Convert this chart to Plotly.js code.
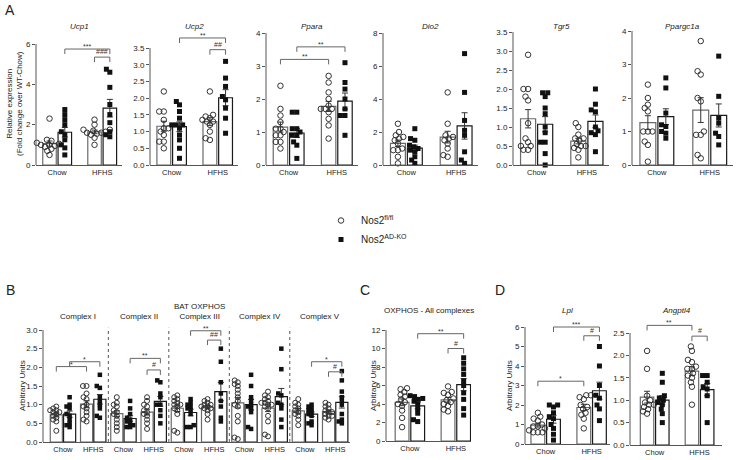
<!DOCTYPE html>
<html><head><meta charset="utf-8">
<script src="https://cdn.plot.ly/plotly-3.0.1.min.js"></script>
<style>html,body{margin:0;padding:0;background:#fff}#chart{width:742px;height:460px}</style>
</head><body><div id="chart"></div>
<script>
// ---------------- DATA ----------------
const diets = ['Chow', 'HFHS'];
const genotypes = ['Nos2<sup>fl/fl</sup>', 'Nos2<sup>AD-KO</sup>'];

// Panel A (relative expression)
const Ucp1_WT_Chow = [2.3, 1.25, 1.2, 1.1, 1.05, 1.0, 1.0, 0.95, 0.9, 0.8, 0.7, 0.5];
const Ucp1_KO_Chow = [2.75, 2.5, 2.25, 2.0, 1.65, 1.5, 1.25, 1.0, 0.85, 0.5];
const Ucp1_WT_HFHS = [2.25, 2.0, 1.75, 1.75, 1.7, 1.65, 1.6, 1.6, 1.55, 1.5, 1.35, 1.0];
const Ucp1_KO_HFHS = [4.75, 4.6, 3.85, 3.0, 2.5, 2.1, 1.65, 1.5, 1.4];

const Ucp2_WT_Chow = [2.2, 1.6, 1.6, 1.35, 1.1, 1.1, 1.0, 0.9, 0.7, 0.7, 0.5];
const Ucp2_KO_Chow = [1.9, 1.8, 1.6, 1.4, 1.2, 1.2, 1.2, 1.1, 0.9, 0.75, 0.5, 0.2];
const Ucp2_WT_HFHS = [2.2, 1.5, 1.45, 1.4, 1.35, 1.3, 1.3, 1.2, 1.0, 0.8, 0.75];
const Ucp2_KO_HFHS = [3.1, 2.6, 2.35, 2.05, 1.95, 1.7, 1.4, 0.95];

const Ppara_WT_Chow = [2.4, 1.7, 1.5, 1.3, 1.1, 1.1, 1.0, 0.9, 0.9, 0.7, 0.7, 0.5];
const Ppara_KO_Chow = [1.6, 1.6, 1.1, 1.1, 1.0, 0.9, 0.9, 0.7, 0.6, 0.2];
const Ppara_WT_HFHS = [2.7, 2.5, 2.2, 2.0, 1.8, 1.7, 1.7, 1.7, 1.6, 1.4, 1.2, 0.8];
const Ppara_KO_HFHS = [3.1, 2.5, 2.3, 2.0, 1.7, 1.5, 1.5, 0.9];

const Dio2_WT_Chow = [2.5, 2.0, 1.8, 1.7, 1.6, 1.5, 1.3, 1.0, 0.9, 0.9, 0.5, 0.1];
const Dio2_KO_Chow = [2.2, 1.6, 1.5, 1.2, 1.1, 1.0, 0.9, 0.8, 0.5, 0.3, 0.1];
const Dio2_WT_HFHS = [4.4, 2.5, 1.8, 1.7, 1.6, 1.5, 1.3, 1.0, 0.6, 0.5];
const Dio2_KO_HFHS = [6.75, 4.4, 2.7, 2.1, 1.8, 0.8, 0.3, 0.1];

const Tgr5_WT_Chow = [2.9, 2.0, 2.0, 1.8, 1.7, 1.1, 0.7, 0.6, 0.5, 0.5, 0.4, 0.4];
const Tgr5_KO_Chow = [1.9, 1.9, 1.8, 1.5, 1.35, 1.0, 0.85, 0.6, 0.6, 0.3, 0.0];
const Tgr5_WT_HFHS = [1.1, 1.0, 0.8, 0.7, 0.7, 0.65, 0.55, 0.5, 0.5, 0.45, 0.4, 0.2];
const Tgr5_KO_HFHS = [2.0, 1.6, 1.45, 1.4, 1.0, 0.9, 0.85, 0.8, 0.35];

const Ppargc1a_WT_Chow = [2.4, 2.0, 1.8, 1.7, 1.6, 1.0, 1.0, 1.0, 0.7, 0.6, 0.1];
const Ppargc1a_KO_Chow = [2.6, 2.3, 1.55, 1.2, 1.15, 1.0, 0.95, 0.8];
const Ppargc1a_WT_HFHS = [3.7, 2.8, 2.7, 2.0, 1.9, 1.0, 0.9, 0.9, 0.3, 0.2];
const Ppargc1a_KO_HFHS = [3.25, 2.05, 1.4, 1.25, 0.95, 0.85, 0.6];

// Panel B (BAT OXPHOS complexes, arbitrary units)
const complexes = ['Complex I', 'Complex II', 'BAT OXPHOS<br>Complex III', 'Complex IV', 'Complex V'];
const CI_WT_Chow = [0.95, 0.9, 0.85, 0.85, 0.8, 0.8, 0.75, 0.7, 0.65, 0.6, 0.55, 0.3];
const CI_KO_Chow = [1.2, 1.0, 0.95, 0.9, 0.75, 0.7, 0.6, 0.5, 0.45, 0.4];
const CI_WT_HFHS = [1.5, 1.5, 1.3, 1.2, 1.15, 1.0, 0.95, 0.9, 0.8, 0.7, 0.6, 0.55];
const CI_KO_HFHS = [1.8, 1.5, 1.45, 1.2, 1.1, 1.0, 0.9, 0.7, 0.65];

const CII_WT_Chow = [1.2, 1.05, 1.0, 0.95, 0.85, 0.8, 0.75, 0.7, 0.6, 0.5, 0.4, 0.3];
const CII_KO_Chow = [1.1, 0.9, 0.75, 0.65, 0.6, 0.55, 0.5, 0.45, 0.4, 0.4];
const CII_WT_HFHS = [1.2, 1.1, 1.0, 0.95, 0.85, 0.8, 0.75, 0.7, 0.6, 0.5, 0.35];
const CII_KO_HFHS = [1.65, 1.6, 1.3, 1.2, 1.0, 1.0, 0.85, 0.7, 0.5];

const CIII_WT_Chow = [1.25, 1.2, 1.15, 1.1, 1.05, 1.0, 1.0, 0.95, 0.9, 0.85, 0.75, 0.3, 0.25];
const CIII_KO_Chow = [1.15, 1.05, 1.0, 0.95, 0.9, 0.85, 0.75, 0.45, 0.4, 0.4];
const CIII_WT_HFHS = [1.15, 1.1, 1.05, 1.0, 1.0, 0.95, 0.95, 0.9, 0.9, 0.85, 0.75, 0.6];
const CIII_KO_HFHS = [2.5, 2.15, 1.6, 1.3, 1.1, 0.95, 0.65, 0.55];

const CIV_WT_Chow = [1.65, 1.6, 1.55, 1.5, 1.4, 1.3, 1.2, 1.1, 1.0, 0.95, 0.7, 0.55, 0.12, 0.08];
const CIV_KO_Chow = [1.8, 1.5, 1.2, 1.1, 1.0, 0.95, 0.9, 0.8, 0.4, 0.35];
const CIV_WT_HFHS = [1.35, 1.25, 1.2, 1.15, 1.1, 1.05, 1.05, 1.0, 1.0, 0.95, 0.9, 0.7, 0.55, 0.2, 0.15];
const CIV_KO_HFHS = [2.5, 1.95, 1.3, 1.25, 1.05, 1.0, 0.9, 0.6, 0.4];

const CV_WT_Chow = [1.15, 1.05, 1.0, 0.95, 0.9, 0.85, 0.8, 0.75, 0.7, 0.6, 0.45];
const CV_KO_Chow = [1.0, 0.95, 0.9, 0.85, 0.8, 0.75, 0.7, 0.55, 0.5, 0.45];
const CV_WT_HFHS = [1.05, 1.0, 0.95, 0.9, 0.85, 0.8, 0.8, 0.75, 0.7, 0.7, 0.65, 0.6];
const CV_KO_HFHS = [1.9, 1.65, 1.35, 1.2, 1.1, 1.0, 0.75, 0.6, 0.55, 0.5];

// Panel C (OXPHOS - all complexes)
const OX_WT_Chow = [5.7, 5.6, 5.3, 5.0, 4.8, 4.5, 4.2, 4.0, 3.8, 3.3, 2.5, 1.5];
const OX_KO_Chow = [4.9, 4.8, 4.6, 4.5, 4.3, 4.0, 3.5, 3.0, 2.3, 2.1];
const OX_WT_HFHS = [5.9, 5.3, 5.2, 5.0, 4.6, 4.4, 4.2, 4.0, 3.8, 3.4, 3.2];
const OX_KO_HFHS = [9.0, 8.4, 7.8, 7.2, 6.5, 6.0, 5.2, 4.5, 3.5, 2.8];

// Panel D
const Lpl_WT_Chow = [1.6, 1.4, 1.3, 1.2, 1.0, 0.9, 0.9, 0.8, 0.7, 0.6, 0.6, 0.6];
const Lpl_KO_Chow = [2.0, 2.0, 1.9, 1.6, 1.4, 1.3, 1.0, 0.8, 0.5, 0.2];
const Lpl_WT_HFHS = [2.5, 2.5, 2.4, 2.3, 2.0, 1.9, 1.8, 1.6, 1.5, 1.3, 0.8];
const Lpl_KO_HFHS = [5.0, 4.0, 3.0, 2.5, 2.35, 2.0, 1.8, 1.2];

const Angptl4_WT_Chow = [2.1, 1.7, 1.1, 1.0, 0.95, 0.9, 0.9, 0.85, 0.8, 0.75, 0.7];
const Angptl4_KO_Chow = [1.6, 1.4, 1.1, 1.05, 1.0, 0.95, 0.9, 0.8, 0.7, 0.5];
const Angptl4_WT_HFHS = [2.2, 2.1, 1.9, 1.85, 1.75, 1.7, 1.7, 1.6, 1.55, 1.5, 1.4, 1.3, 0.9];
const Angptl4_KO_HFHS = [1.55, 1.55, 1.4, 1.3, 1.25, 1.1, 0.5];

// ---------------- LAYOUT / STYLE ----------------
const W = 742, H = 460;
const FONT = 'Liberation Sans, Arial, Helvetica, sans-serif';
const INK = '#222222';
const two = (wt1, ko1, wt2, ko2) => [
  {x: 0, label: diets[0], wt: wt1, ko: ko1},
  {x: 1, label: diets[1], wt: wt2, ko: ko2}
];
const XR2 = [-0.47, 1.44];

const subplots = [
  {title: '<i>Ucp1</i>', x0: 36, x1: 122, top: 44, bot: 165, T: 6, dt: 2, dec: 0, xr: XR2, bw: 0.3, off: [-0.32, 0.02],
   sets: two(Ucp1_WT_Chow, Ucp1_KO_Chow, Ucp1_WT_HFHS, Ucp1_KO_HFHS),
   br: [{a: [0, 1], b: [1, 1], y: 5.75, t: '***'}, {a: [1, 0], b: [1, 1], y: 5.35, t: '###'}]},
  {title: '<i>Ucp2</i>', x0: 150, x1: 238, top: 48, bot: 165, T: 3.5, dt: 0.5, dec: 1, xr: XR2, bw: 0.3, off: [-0.32, 0.02],
   sets: two(Ucp2_WT_Chow, Ucp2_KO_Chow, Ucp2_WT_HFHS, Ucp2_KO_HFHS),
   br: [{a: [0, 1], b: [1, 1], y: 3.8, t: '**'}, {a: [1, 0], b: [1, 1], y: 3.45, t: '##'}]},
  {title: '<i>Ppara</i>', x0: 266, x1: 358, top: 33, bot: 165, T: 4, dt: 1, dec: 0, xr: XR2, bw: 0.3, off: [-0.32, 0.02],
   sets: two(Ppara_WT_Chow, Ppara_KO_Chow, Ppara_WT_HFHS, Ppara_KO_HFHS),
   br: [{a: [0, 1], b: [1, 1], y: 3.58, t: '**'}, {a: [0, 0], b: [1, 0], y: 3.2, t: '**'}]},
  {title: '<i>Dio2</i>', x0: 383, x1: 478, top: 33, bot: 165, T: 8, dt: 2, dec: 0, xr: XR2, bw: 0.3, off: [-0.32, 0.02],
   sets: two(Dio2_WT_Chow, Dio2_KO_Chow, Dio2_WT_HFHS, Dio2_KO_HFHS), br: []},
  {title: '<i>Tgr5</i>', x0: 513, x1: 609, top: 32, bot: 165, T: 3.5, dt: 0.5, dec: 1, xr: XR2, bw: 0.3, off: [-0.32, 0.02],
   sets: two(Tgr5_WT_Chow, Tgr5_KO_Chow, Tgr5_WT_HFHS, Tgr5_KO_HFHS), br: []},
  {title: '<i>Ppargc1a</i>', x0: 632, x1: 733, top: 31, bot: 165, T: 4, dt: 1, dec: 0, xr: XR2, bw: 0.3, off: [-0.32, 0.02],
   sets: two(Ppargc1a_WT_Chow, Ppargc1a_KO_Chow, Ppargc1a_WT_HFHS, Ppargc1a_KO_HFHS), br: []},
  {title: null, x0: 43, x1: 350, top: 330, bot: 442, T: 3, dt: 0.5, dec: 1, xr: [-0.66, 9.49], bw: 0.4, off: [-0.42, 0.02],
   sets: [
     {x: 0, label: diets[0], wt: CI_WT_Chow, ko: CI_KO_Chow}, {x: 1, label: diets[1], wt: CI_WT_HFHS, ko: CI_KO_HFHS},
     {x: 2, label: diets[0], wt: CII_WT_Chow, ko: CII_KO_Chow}, {x: 3, label: diets[1], wt: CII_WT_HFHS, ko: CII_KO_HFHS},
     {x: 4, label: diets[0], wt: CIII_WT_Chow, ko: CIII_KO_Chow}, {x: 5, label: diets[1], wt: CIII_WT_HFHS, ko: CIII_KO_HFHS},
     {x: 6, label: diets[0], wt: CIV_WT_Chow, ko: CIV_KO_Chow}, {x: 7, label: diets[1], wt: CIV_WT_HFHS, ko: CIV_KO_HFHS},
     {x: 8, label: diets[0], wt: CV_WT_Chow, ko: CV_KO_Chow}, {x: 9, label: diets[1], wt: CV_WT_HFHS, ko: CV_KO_HFHS}],
   seps: [1.5, 3.5, 5.5, 7.5], groupTitles: complexes,
   br: [{a: [0, 0], b: [1, 0], y: 2.02, t: '*'}, {a: [0, 1], b: [1, 1], y: 2.15, t: '*'},
        {a: [2, 1], b: [3, 1], y: 2.24, t: '**'}, {a: [3, 0], b: [3, 1], y: 1.93, t: '#'},
        {a: [4, 1], b: [5, 1], y: 2.98, t: '**'}, {a: [5, 0], b: [5, 1], y: 2.73, t: '##'},
        {a: [8, 1], b: [9, 1], y: 2.15, t: '*'}, {a: [9, 0], b: [9, 1], y: 1.88, t: '#'}]},
  {title: 'OXPHOS - All complexes', x0: 386, x1: 471, top: 330, bot: 441, T: 12, dt: 2, dec: 0, xr: [-0.52, 1.33], bw: 0.3, off: [-0.32, 0.02],
   sets: two(OX_WT_Chow, OX_KO_Chow, OX_WT_HFHS, OX_KO_HFHS),
   br: [{a: [0, 1], b: [1, 1], y: 11.6, t: '**'}, {a: [1, 0], b: [1, 1], y: 10.0, t: '#'}]},
  {title: '<i>Lpl</i>', x0: 525, x1: 610, top: 327, bot: 444, T: 6, dt: 1, dec: 0, xr: [-0.45, 1.4], bw: 0.3, off: [-0.32, 0.02],
   sets: two(Lpl_WT_Chow, Lpl_KO_Chow, Lpl_WT_HFHS, Lpl_KO_HFHS),
   br: [{a: [0, 1], b: [1, 1], y: 6.0, t: '***'}, {a: [1, 0], b: [1, 1], y: 5.55, t: '#'}, {a: [0, 0], b: [1, 0], y: 3.22, t: '*'}]},
  {title: '<i>Angptl4</i>', x0: 630, x1: 722, top: 333, bot: 445, T: 2.5, dt: 0.5, dec: 1, xr: [-0.55, 1.5], bw: 0.3, off: [-0.32, 0.02],
   sets: two(Angptl4_WT_Chow, Angptl4_KO_Chow, Angptl4_WT_HFHS, Angptl4_KO_HFHS),
   br: [{a: [0, 0], b: [1, 0], y: 2.67, t: '**'}, {a: [1, 0], b: [1, 1], y: 2.43, t: '#'}]}
];

const yTitles = [
  {text: 'Relative expression<br>(Fold change over WT-Chow)', x: 14, y: 104},
  {text: 'Arbitrary Units', x: 22, y: 386},
  {text: 'Arbitrary Units', x: 373, y: 386},
  {text: 'Arbitrary Units', x: 509, y: 386}
];
const panelLetters = [
  {t: 'A', x: 10, y: 10}, {t: 'B', x: 10, y: 290}, {t: 'C', x: 365, y: 290}, {t: 'D', x: 500, y: 290}
];

// ---------------- HELPERS ----------------
const mean = a => a.reduce((s, v) => s + v, 0) / a.length;
const sem = a => { const m = mean(a); return Math.sqrt(a.reduce((s, v) => s + (v - m) ** 2, 0) / (a.length - 1)) / Math.sqrt(a.length); };
function swarm(vals, sy, d) {
  const order = vals.map((v, i) => i).sort((a, b) => vals[a] - vals[b]);
  const placed = [], out = new Array(vals.length).fill(0);
  for (const i of order) {
    const y = vals[i] * sy;
    const near = placed.filter(p => Math.abs(p.y - y) < d);
    const cands = [0];
    near.forEach(p => { const dx = Math.sqrt(d * d - (p.y - y) ** 2); cands.push(p.x + dx, p.x - dx); });
    cands.sort((a, b) => Math.abs(a) - Math.abs(b) || a - b);
    let x = 0;
    for (const c of cands) { if (near.every(p => (p.x - c) ** 2 + (p.y - y) ** 2 >= d * d - 0.01)) { x = c; break; } }
    placed.push({x, y}); out[i] = x;
  }
  return out;
}

const traces = [], shapes = [], annotations = [];
const layout = {
  width: W, height: H, margin: {l: 0, r: 0, t: 0, b: 0},
  paper_bgcolor: '#fff', plot_bgcolor: 'rgba(0,0,0,0)',
  font: {family: FONT, size: 8, color: INK},
  barmode: 'overlay', showlegend: true,
  legend: {x: 321 / W, y: 1 - 206 / H, xanchor: 'left', yanchor: 'top', bgcolor: 'rgba(0,0,0,0)',
           font: {family: FONT, size: 10, color: INK}, tracegroupgap: 0, itemwidth: 30},
  shapes, annotations
};
const EXT = 1.18;
const BARLINE = ['#6a6a6a', '#1a1a1a'];

subplots.forEach((sp, k) => {
  const n = k + 1, xa = n === 1 ? 'x' : 'x' + n, ya = n === 1 ? 'y' : 'y' + n;
  const sy = (sp.bot - sp.top) / sp.T;
  const R = sp.T * EXT;
  const domTop = sp.bot - R * sy;
  const sx = (sp.x1 - sp.x0) / (sp.xr[1] - sp.xr[0]);
  const tv = [], tt = [];
  for (let v = 0; v <= sp.T + 1e-9; v += sp.dt) { tv.push(v); tt.push(v.toFixed(sp.dec)); }
  layout[(n === 1 ? 'xaxis' : 'xaxis' + n)] = {
    domain: [sp.x0 / W, sp.x1 / W], anchor: ya, range: sp.xr, showgrid: false, zeroline: false,
    showline: true, linecolor: '#555', linewidth: 1, ticks: '', tickvals: sp.sets.map(s => s.x),
    ticktext: sp.sets.map(s => s.label), tickfont: {size: 7.5, color: INK}, fixedrange: true
  };
  layout[(n === 1 ? 'yaxis' : 'yaxis' + n)] = {
    domain: [1 - sp.bot / H, 1 - domTop / H], anchor: xa, range: [0, R], showgrid: false, zeroline: false,
    showline: false, ticks: 'outside', ticklen: 3, tickwidth: 1, tickcolor: '#555', tickvals: tv, ticktext: tt,
    tickfont: {size: 8, color: INK}, fixedrange: true
  };
  shapes.push({type: 'line', xref: 'paper', yref: 'paper', x0: sp.x0 / W, x1: sp.x0 / W,
               y0: 1 - sp.bot / H, y1: 1 - sp.top / H, line: {color: '#555', width: 1}});
  (sp.seps || []).forEach(s => traces.push({type: 'scatter', mode: 'lines', x: [s, s], y: [0, sp.T * 1.02], xaxis: xa, yaxis: ya,
    line: {color: '#555', width: 1, dash: 'dot'}, showlegend: false, hoverinfo: 'skip'}));
  ['wt', 'ko'].forEach((g, gi) => {
    traces.push({type: 'bar', x: sp.sets.map(s => s.x), y: sp.sets.map(s => mean(s[g])),
      offset: sp.off[gi], width: sp.bw, xaxis: xa, yaxis: ya, showlegend: false, hoverinfo: 'skip',
      marker: {color: '#fff', line: {color: BARLINE[gi], width: 1.2}},
      error_y: {type: 'data', array: sp.sets.map(s => sem(s[g])), visible: true, color: '#333', thickness: 1, width: 3}});
  });
  const dense = sp.sets.length > 2;
  ['wt', 'ko'].forEach((g, gi) => {
    const xs = [], ys = [];
    sp.sets.forEach(s => {
      const c = s.x + sp.off[gi] + sp.bw / 2;
      const offs = swarm(s[g], sy, dense ? 3.6 : 4.6);
      s[g].forEach((v, i) => { xs.push(c + offs[i] / sx); ys.push(v); });
    });
    traces.push({type: 'scatter', mode: 'markers', x: xs, y: ys, xaxis: xa, yaxis: ya, name: genotypes[gi],
      showlegend: k === 0, hoverinfo: 'skip', cliponaxis: false,
      marker: gi === 0 ? {symbol: 'circle-open', size: dense ? 5 : 5.5, color: '#333', line: {width: 1, color: '#333'}}
                       : {symbol: 'square', size: dense ? 4.5 : 5, color: '#111', line: {width: 0}}});
  });
  const drop = 5 / sy;
  sp.br.forEach(b => {
    const xa1 = sp.sets[b.a[0]].x + sp.off[b.a[1]] + sp.bw / 2;
    const xb1 = sp.sets[b.b[0]].x + sp.off[b.b[1]] + sp.bw / 2;
    traces.push({type: 'scatter', mode: 'lines', x: [xa1, xa1, xb1, xb1], y: [b.y - drop, b.y, b.y, b.y - drop],
      xaxis: xa, yaxis: ya, line: {color: '#666', width: 1}, showlegend: false, hoverinfo: 'skip'});
    annotations.push({xref: xa, yref: ya, x: (xa1 + xb1) / 2, y: b.y, text: b.t, showarrow: false,
      yanchor: 'bottom', yshift: b.t[0] === '*' ? -3 : 0, font: {size: 7, color: '#333'}});
  });
  if (sp.title) {
    annotations.push({xref: 'paper', yref: 'paper', x: (sp.x0 + sp.x1) / 2 / W, y: 1 - (k < 6 ? 27 : 310) / H,
      text: sp.title, showarrow: false, xanchor: 'center', yanchor: 'middle', font: {size: 8, color: INK}});
  }
  if (sp.groupTitles) {
    sp.groupTitles.forEach((t, gi) => {
      const cx = sp.x0 + (2 * gi + 0.5 - sp.xr[0]) * sx;
      annotations.push({xref: 'paper', yref: 'paper', x: cx / W, y: 1 - 323 / H, text: t, showarrow: false,
        xanchor: 'center', yanchor: 'bottom', font: {size: 8, color: INK}});
    });
  }
});

yTitles.forEach(t => annotations.push({xref: 'paper', yref: 'paper', x: t.x / W, y: 1 - t.y / H, text: t.text,
  textangle: -90, showarrow: false, xanchor: 'center', yanchor: 'middle', font: {size: 8, color: INK}}));
panelLetters.forEach(p => annotations.push({xref: 'paper', yref: 'paper', x: p.x / W, y: 1 - p.y / H, text: p.t,
  showarrow: false, xanchor: 'center', yanchor: 'middle', font: {size: 14, color: INK}}));

Plotly.newPlot('chart', traces, layout, {displayModeBar: false, staticPlot: true});
</script></body></html>
